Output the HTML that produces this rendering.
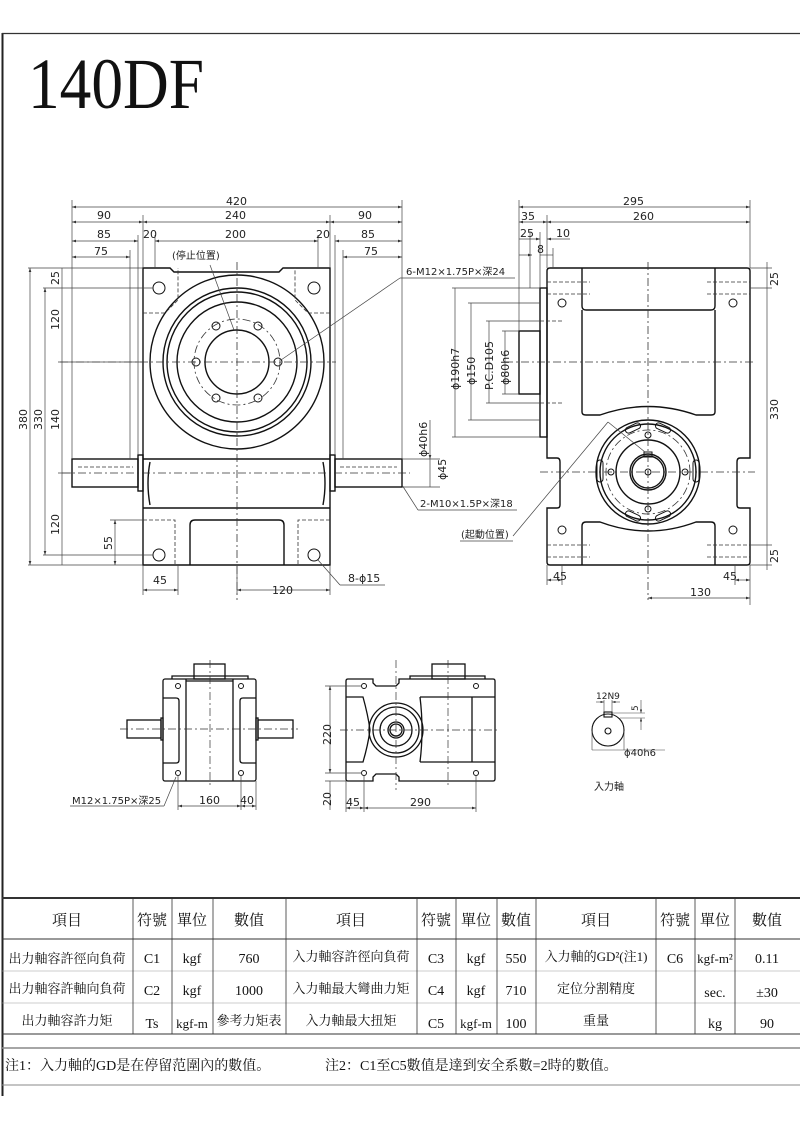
<!DOCTYPE html>
<html><head><meta charset="utf-8"><style>
html,body{margin:0;padding:0;background:#fff;}
svg{display:block;}
text{font-family:"DejaVu Sans","Noto Sans CJK TC",sans-serif;}
.d{font-size:11px;fill:#222;}
.t text{font-family:"Liberation Serif","Noto Serif CJK SC","Noto Sans CJK TC",serif;fill:#111;}
</style></head><body>
<svg width="800" height="1131" viewBox="0 0 800 1131" xmlns="http://www.w3.org/2000/svg">
<defs>
<marker id="a" markerWidth="6" markerHeight="4" refX="6" refY="2" orient="auto-start-reverse"><path d="M0,0 L6,2 L0,4z" fill="#333"/></marker>
</defs>
<line x1="2.5" y1="33" x2="2.5" y2="1096" stroke="#222" stroke-width="2"/>
<line x1="2" y1="33.5" x2="800" y2="33.5" stroke="#333" stroke-width="1.2"/>
<text x="28" y="108" font-size="72" transform="translate(28,0) scale(0.88,1) translate(-28,0)" style="font-family:'Liberation Serif',serif" fill="#111">140DF</text>

<g fill="none" stroke="#111" stroke-width="1.4">
<path d="M143,268 H170 L174,272 H279 L283,268 H330 V565 H143 Z"/>
<line x1="143" y1="459" x2="330" y2="459"/>
<line x1="143" y1="508" x2="330" y2="508"/>
<path d="M150,462 Q146,483 150,505 M323,462 Q327,483 323,505"/>
<rect x="72" y="459" width="66" height="28"/>
<rect x="138" y="455" width="5" height="36"/>
<rect x="335" y="459" width="67" height="28"/>
<rect x="330" y="455" width="5" height="36"/>
<path d="M190,565 V525 Q190,520 195,520 H279 Q284,520 284,525 V565"/>
<circle cx="237" cy="362" r="87"/>
<circle cx="237" cy="362" r="74"/>
<circle cx="237" cy="362" r="70"/>
<circle cx="237" cy="362" r="60"/>
<circle cx="237" cy="362" r="32"/>
<g stroke-width="1"><circle cx="196" cy="362" r="4"/><circle cx="278" cy="362" r="4"/><circle cx="216" cy="326" r="4"/><circle cx="258" cy="326" r="4"/><circle cx="216" cy="398" r="4"/><circle cx="258" cy="398" r="4"/>
<circle cx="159" cy="288" r="6"/><circle cx="314" cy="288" r="6"/><circle cx="159" cy="555" r="6"/><circle cx="314" cy="555" r="6"/></g>
</g>
<g fill="none" stroke="#333" stroke-width="0.8" stroke-dasharray="8,3,2,3">
<line x1="237" y1="262" x2="237" y2="600"/><line x1="60" y1="362" x2="336" y2="362"/><line x1="62" y1="473" x2="410" y2="473"/>
<circle cx="237" cy="362" r="43"/>
</g>
<g fill="none" stroke="#333" stroke-width="0.8" stroke-dasharray="4,2">
<path d="M143,313 H165 L178,300 V268 M330,313 H308 L295,300 V268 M143,520 H175 V565 M330,520 H298 V565 M78,467 H133 M340,467 H397"/>
</g>
<g stroke="#444" stroke-width="0.7" fill="none">
<path d="M72,200 V459 M402,200 V459 M143,215 V268 M330,215 V268 M138,235 V455 M335,235 V455 M155,235 V268 M318,235 V268 M130,250 V459 M343,250 V459"/>
<line x1="72" y1="207" x2="402" y2="207" marker-start="url(#a)" marker-end="url(#a)"/>
<line x1="72" y1="222" x2="143" y2="222" marker-start="url(#a)" marker-end="url(#a)"/>
<line x1="143" y1="222" x2="330" y2="222" marker-start="url(#a)" marker-end="url(#a)"/>
<line x1="330" y1="222" x2="402" y2="222" marker-start="url(#a)" marker-end="url(#a)"/>
<line x1="72" y1="241" x2="138" y2="241" marker-start="url(#a)" marker-end="url(#a)"/>
<line x1="155" y1="241" x2="318" y2="241" marker-start="url(#a)" marker-end="url(#a)"/>
<line x1="335" y1="241" x2="402" y2="241" marker-start="url(#a)" marker-end="url(#a)"/>
<line x1="72" y1="257" x2="130" y2="257" marker-start="url(#a)" marker-end="url(#a)"/>
<line x1="343" y1="257" x2="402" y2="257" marker-start="url(#a)" marker-end="url(#a)"/>
<path d="M28,268 H143 M28,565 H143 M43,288 H153 M43,555 H153 M58,362 H143 M58,473 H72 M110,520 H143"/>
<line x1="30" y1="268" x2="30" y2="565" marker-start="url(#a)" marker-end="url(#a)"/>
<line x1="45" y1="288" x2="45" y2="555" marker-start="url(#a)" marker-end="url(#a)"/>
<line x1="62" y1="268" x2="62" y2="565"/>
<line x1="115" y1="520" x2="115" y2="565" marker-start="url(#a)" marker-end="url(#a)"/>
<path d="M143,565 V595 M178,565 V595 M237,565 V595 M330,565 V595"/>
<line x1="143" y1="590" x2="178" y2="590" marker-start="url(#a)" marker-end="url(#a)"/>
<line x1="237" y1="590" x2="330" y2="590" marker-start="url(#a)" marker-end="url(#a)"/>
<line x1="281" y1="360" x2="400" y2="278"/><line x1="400" y1="278" x2="515" y2="278"/>
<line x1="210" y1="265" x2="234" y2="330"/>
<line x1="402" y1="485" x2="418" y2="510"/><line x1="418" y1="510" x2="517" y2="510"/>
<line x1="318" y1="560" x2="340" y2="585"/><line x1="340" y1="585" x2="385" y2="585"/>
<path d="M402,459 H440 M402,487 H440"/>
<line x1="430" y1="420" x2="430" y2="459" marker-end="url(#a)"/>
<line x1="430" y1="459" x2="430" y2="487"/>
</g>
<g class="d">
<text x="226" y="205">420</text><text x="97" y="219">90</text><text x="225" y="219">240</text><text x="358" y="219">90</text>
<text x="97" y="238">85</text><text x="143" y="238">20</text><text x="225" y="238">200</text><text x="316" y="238">20</text><text x="361" y="238">85</text>
<text x="94" y="255">75</text><text x="364" y="255">75</text>
<text x="153" y="584">45</text><text x="272" y="594">120</text>
<text x="172" y="259" font-size="10">(停止位置)</text>
<text x="406" y="275" font-size="10">6-M12×1.75P×深24</text>
<text x="420" y="507" font-size="10">2-M10×1.5P×深18</text>
<text x="348" y="582">8-ϕ15</text>
<text transform="translate(27,430) rotate(-90)">380</text>
<text transform="translate(42,430) rotate(-90)">330</text>
<text transform="translate(59,330) rotate(-90)">120</text>
<text transform="translate(59,430) rotate(-90)">140</text>
<text transform="translate(59,535) rotate(-90)">120</text>
<text transform="translate(59,285) rotate(-90)">25</text>
<text transform="translate(112,550) rotate(-90)">55</text>
<text transform="translate(427,457) rotate(-90)">ϕ40h6</text>
<text transform="translate(446,480) rotate(-90)">ϕ45</text>
</g>

<g fill="none" stroke="#111" stroke-width="1.4">
<path d="M550,268 H747 Q750,268 750,271 V458 H740 Q737,458 737,462 V505 Q737,508 740,508 H750 V562 Q750,565 747,565 H550 Q547,565 547,562 V508 H557 Q560,508 560,505 V462 Q560,458 557,458 H547 V271 Q547,268 550,268 Z"/>
<path d="M582,268 V306 Q582,310 586,310 H711 Q715,310 715,306 V268"/>
<path d="M582,310 V412 Q582,415 586,415 H600 Q648,398 696,415 H711 Q715,415 715,412 V310"/>
<path d="M582,565 V526 Q582,522 586,522 H600 Q648,540 696,522 H711 Q715,522 715,526 V565"/>
<rect x="540" y="288" width="7" height="149"/>
<rect x="519" y="331" width="21" height="63"/>
<circle cx="648" cy="472" r="52"/>
<circle cx="648" cy="472" r="48"/>
<circle cx="648" cy="472" r="32"/>
<circle cx="648" cy="472" r="18"/>
<circle cx="648" cy="472" r="16"/>
<g stroke-width="1"><circle cx="648" cy="472" r="3"/><circle cx="648" cy="435" r="3"/><circle cx="648" cy="509" r="3"/><circle cx="611" cy="472" r="3"/><circle cx="685" cy="472" r="3"/>
<rect x="644" y="452" width="8" height="5"/>
<circle cx="562" cy="303" r="4"/><circle cx="733" cy="303" r="4"/><circle cx="562" cy="530" r="4"/><circle cx="733" cy="530" r="4"/>
<rect x="625" y="425" width="16" height="6" rx="3" transform="rotate(-25 633 428)"/>
<rect x="655" y="425" width="16" height="6" rx="3" transform="rotate(25 663 428)"/>
<rect x="625" y="513" width="16" height="6" rx="3" transform="rotate(25 633 516)"/>
<rect x="655" y="513" width="16" height="6" rx="3" transform="rotate(-25 663 516)"/>
<rect x="597" y="460" width="6" height="22" rx="3"/><rect x="693" y="460" width="6" height="22" rx="3"/></g>
</g>
<g fill="none" stroke="#333" stroke-width="0.8" stroke-dasharray="8,3,2,3">
<line x1="648" y1="262" x2="648" y2="600"/><line x1="505" y1="362" x2="755" y2="362"/><line x1="540" y1="472" x2="755" y2="472"/>
<circle cx="648" cy="472" r="42"/>
</g>
<g fill="none" stroke="#333" stroke-width="0.8" stroke-dasharray="4,2">
<path d="M547,282 H590 M547,294 H590 M707,282 H750 M707,294 H750 M547,545 H590 M547,557 H590 M707,545 H750 M707,557 H750 M540,321 H562 M540,403 H562"/>
</g>
<g stroke="#444" stroke-width="0.7" fill="none">
<path d="M519,200 V331 M750,200 V268 M547,215 V268 M530,232 V288 M540,232 V288 M553,248 V268"/>
<line x1="519" y1="207" x2="750" y2="207" marker-start="url(#a)" marker-end="url(#a)"/>
<line x1="519" y1="222" x2="547" y2="222" marker-start="url(#a)" marker-end="url(#a)"/>
<line x1="547" y1="222" x2="750" y2="222" marker-start="url(#a)" marker-end="url(#a)"/>
<line x1="519" y1="239" x2="540" y2="239" marker-end="url(#a)"/><line x1="547" y1="239" x2="570" y2="239" marker-start="url(#a)"/>
<line x1="519" y1="255" x2="532" y2="255" marker-end="url(#a)"/><line x1="540" y1="255" x2="553" y2="255"/>
<path d="M452,288 H540 M452,437 H540 M468,303 H540 M468,420 H540 M486,321 H540 M486,403 H540 M502,331 H519 M502,394 H519"/>
<line x1="455" y1="288" x2="455" y2="437"/><line x1="471" y1="303" x2="471" y2="420"/><line x1="489" y1="321" x2="489" y2="403"/><line x1="505" y1="331" x2="505" y2="394"/>
<path d="M750,268 H772 M750,288 H772 M750,545 H772 M750,565 H772"/>
<line x1="767" y1="262" x2="767" y2="570"/>
<path d="M547,565 V585 M562,565 V585 M735,565 V585 M750,565 V605"/>
<line x1="547" y1="580" x2="562" y2="580" marker-start="url(#a)" marker-end="url(#a)"/>
<line x1="735" y1="580" x2="750" y2="580" marker-start="url(#a)" marker-end="url(#a)"/>
<line x1="648" y1="598" x2="750" y2="598" marker-start="url(#a)" marker-end="url(#a)"/>
<line x1="513" y1="536" x2="608" y2="422"/><line x1="608" y1="422" x2="645" y2="452"/><line x1="460" y1="541" x2="513" y2="541"/>
</g>
<g class="d">
<text x="623" y="205">295</text><text x="521" y="220">35</text><text x="633" y="220">260</text>
<text x="520" y="237">25</text><text x="556" y="237">10</text><text x="537" y="253">8</text>
<text x="461" y="538" font-size="10">(起動位置)</text>
<text x="553" y="580">45</text><text x="723" y="580">45</text><text x="690" y="596">130</text>
<text transform="translate(459,390) rotate(-90)">ϕ190h7</text>
<text transform="translate(475,385) rotate(-90)">ϕ150</text>
<text transform="translate(493,390) rotate(-90)">P.C.D105</text>
<text transform="translate(509,385) rotate(-90)">ϕ80h6</text>
<text transform="translate(778,420) rotate(-90)">330</text>
<text transform="translate(778,286) rotate(-90)">25</text>
<text transform="translate(778,563) rotate(-90)">25</text>
</g>

<g fill="none" stroke="#111" stroke-width="1.3">
<rect x="163" y="679" width="93" height="102" rx="2"/>
<rect x="194" y="664" width="31" height="15"/>
<path d="M172,679 V676 H248 V679"/>
<path d="M186,679 V781 M233,679 V781 M186,681 H233"/>
<path d="M163,698 H176 Q179,698 179,701 V760 Q179,763 176,763 H163 M256,698 H243 Q240,698 240,701 V760 Q240,763 243,763 H256"/>
<rect x="127" y="720" width="34" height="18"/><rect x="161" y="718" width="2" height="22"/>
<rect x="258" y="720" width="35" height="18"/><rect x="256" y="718" width="2" height="22"/>
<g stroke-width="1"><circle cx="178" cy="686" r="2.5"/><circle cx="241" cy="686" r="2.5"/><circle cx="178" cy="773" r="2.5"/><circle cx="241" cy="773" r="2.5"/></g>
</g>
<g fill="none" stroke="#333" stroke-width="0.7" stroke-dasharray="8,3,2,3"><line x1="210" y1="660" x2="210" y2="785"/><line x1="120" y1="729" x2="298" y2="729"/></g>
<g stroke="#444" stroke-width="0.7" fill="none">
<path d="M178,775 V810 M241,775 V810 M256,781 V810"/>
<line x1="178" y1="806" x2="241" y2="806" marker-start="url(#a)" marker-end="url(#a)"/>
<line x1="241" y1="806" x2="256" y2="806" marker-start="url(#a)" marker-end="url(#a)"/>
<line x1="176" y1="777" x2="164" y2="806"/><line x1="70" y1="806" x2="164" y2="806"/>
</g>
<g class="d"><text x="72" y="804" font-size="10">M12×1.75P×深25</text><text x="199" y="804">160</text><text x="240" y="804">40</text></g>

<g fill="none" stroke="#111" stroke-width="1.3">
<path d="M348,679 H373 V683 L376,686 H396 L399,683 V679 H493 Q495,679 495,681 V779 Q495,781 493,781 H399 V777 L396,774 H376 L373,777 V781 H348 Q346,781 346,779 V681 Q346,679 348,679 Z"/>
<rect x="432" y="664" width="33" height="15"/>
<path d="M410,679 V676 H485 V679"/>
<path d="M346,697 H363 Q368,715 370,730 Q368,745 363,762 H346"/>
<path d="M420,697 H495 M420,762 H495 M420,697 Q424,730 420,762 M472,697 V762"/>
<circle cx="396" cy="730" r="27"/><circle cx="396" cy="730" r="23"/><circle cx="396" cy="730" r="16"/><circle cx="396" cy="730" r="8"/><circle cx="396" cy="730" r="6"/>
<g stroke-width="1"><circle cx="364" cy="686" r="2.5"/><circle cx="476" cy="686" r="2.5"/><circle cx="364" cy="773" r="2.5"/><circle cx="476" cy="773" r="2.5"/></g>
</g>
<g fill="none" stroke="#333" stroke-width="0.7" stroke-dasharray="8,3,2,3"><line x1="396" y1="660" x2="396" y2="790"/><line x1="448" y1="660" x2="448" y2="785"/><line x1="340" y1="730" x2="500" y2="730"/></g>
<g stroke="#444" stroke-width="0.7" fill="none">
<path d="M325,686 H362 M325,773 H362 M325,781 H346 M346,781 V812 M364,775 V812 M476,775 V812"/>
<line x1="330" y1="686" x2="330" y2="773" marker-start="url(#a)" marker-end="url(#a)"/>
<line x1="330" y1="781" x2="330" y2="810"/>
<line x1="346" y1="808" x2="364" y2="808" marker-start="url(#a)" marker-end="url(#a)"/>
<line x1="364" y1="808" x2="476" y2="808" marker-start="url(#a)" marker-end="url(#a)"/>
</g>
<g class="d"><text transform="translate(331,745) rotate(-90)">220</text><text transform="translate(331,806) rotate(-90)">20</text><text x="346" y="806">45</text><text x="410" y="806">290</text></g>

<g fill="none" stroke="#111" stroke-width="1.1">
<circle cx="608" cy="730" r="16"/><rect x="604" y="712" width="8" height="5"/><circle cx="608" cy="731" r="3"/>
</g>
<g stroke="#444" stroke-width="0.6" fill="none">
<path d="M604,700 V712 M612,700 V712 M592,731 V750 M624,731 V750 M612,713 H645 M620,718 H645"/>
<line x1="596" y1="702" x2="604" y2="702" marker-end="url(#a)"/><line x1="620" y1="702" x2="612" y2="702" marker-end="url(#a)"/>
<line x1="641" y1="700" x2="641" y2="713" marker-end="url(#a)"/><line x1="641" y1="730" x2="641" y2="718" marker-end="url(#a)"/>
<line x1="592" y1="750" x2="665" y2="750"/>
</g>
<g class="d"><text x="596" y="699" font-size="9">12N9</text><text transform="translate(638,711) rotate(-90)" font-size="9">5</text><text x="624" y="756" font-size="10">ϕ40h6</text><text x="594" y="790" font-size="10">入力軸</text></g>

<g stroke="#333" fill="none">
<line x1="2" y1="898" x2="800" y2="898" stroke-width="2"/>
<line x1="2" y1="939" x2="800" y2="939" stroke-width="1"/>
<line x1="2" y1="971" x2="800" y2="971" stroke-width="0.6" stroke="#999"/>
<line x1="2" y1="1003" x2="800" y2="1003" stroke-width="0.6" stroke="#999"/>
<line x1="2" y1="1034" x2="800" y2="1034" stroke-width="1"/>
<line x1="2" y1="1048" x2="800" y2="1048" stroke-width="1.5" stroke="#888"/>
<line x1="2" y1="1085" x2="800" y2="1085" stroke-width="1" stroke="#888"/>
<path stroke-width="0.8" d="M133,898 V1034 M172,898 V1034 M213,898 V1034 M286,898 V1034 M417,898 V1034 M456,898 V1034 M497,898 V1034 M536,898 V1034 M656,898 V1034 M695,898 V1034 M735,898 V1034"/>
</g>
<g class="t" text-anchor="middle" font-size="14">
<text x="67" y="925" font-size="15">項目</text><text x="152" y="925" font-size="15">符號</text><text x="192" y="925" font-size="15">單位</text><text x="249" y="925" font-size="15">數值</text>
<text x="351" y="925" font-size="15">項目</text><text x="436" y="925" font-size="15">符號</text><text x="476" y="925" font-size="15">單位</text><text x="516" y="925" font-size="15">數值</text>
<text x="596" y="925" font-size="15">項目</text><text x="675" y="925" font-size="15">符號</text><text x="715" y="925" font-size="15">單位</text><text x="767" y="925" font-size="15">數值</text>
<text x="67" y="963" font-size="13">出力軸容許徑向負荷</text><text x="152" y="963">C1</text><text x="192" y="963">kgf</text><text x="249" y="963">760</text>
<text x="351" y="961" font-size="13">入力軸容許徑向負荷</text><text x="436" y="963">C3</text><text x="476" y="963">kgf</text><text x="516" y="963">550</text>
<text x="596" y="961" font-size="13">入力軸的GD²(注1)</text><text x="675" y="963">C6</text><text x="715" y="963" font-size="13">kgf-m²</text><text x="767" y="963">0.11</text>
<text x="67" y="993" font-size="13">出力軸容許軸向負荷</text><text x="152" y="995">C2</text><text x="192" y="995">kgf</text><text x="249" y="995">1000</text>
<text x="351" y="993" font-size="13">入力軸最大彎曲力矩</text><text x="436" y="995">C4</text><text x="476" y="995">kgf</text><text x="516" y="995">710</text>
<text x="596" y="993" font-size="13">定位分割精度</text><text x="715" y="997">sec.</text><text x="767" y="997">±30</text>
<text x="67" y="1025" font-size="13">出力軸容許力矩</text><text x="152" y="1028">Ts</text><text x="192" y="1028" font-size="13">kgf-m</text><text x="249" y="1025" font-size="13">參考力矩表</text>
<text x="351" y="1025" font-size="13">入力軸最大扭矩</text><text x="436" y="1028">C5</text><text x="476" y="1028" font-size="13">kgf-m</text><text x="516" y="1028">100</text>
<text x="596" y="1025" font-size="13">重量</text><text x="715" y="1028">kg</text><text x="767" y="1028">90</text>
</g>
<g class="t">
<text x="5" y="1070" font-size="14">注1：入力軸的GD是在停留范圍內的數值。</text>
<text x="325" y="1070" font-size="14">注2：C1至C5數值是達到安全系數=2時的數值。</text>
</g>
</svg>
</body></html>
